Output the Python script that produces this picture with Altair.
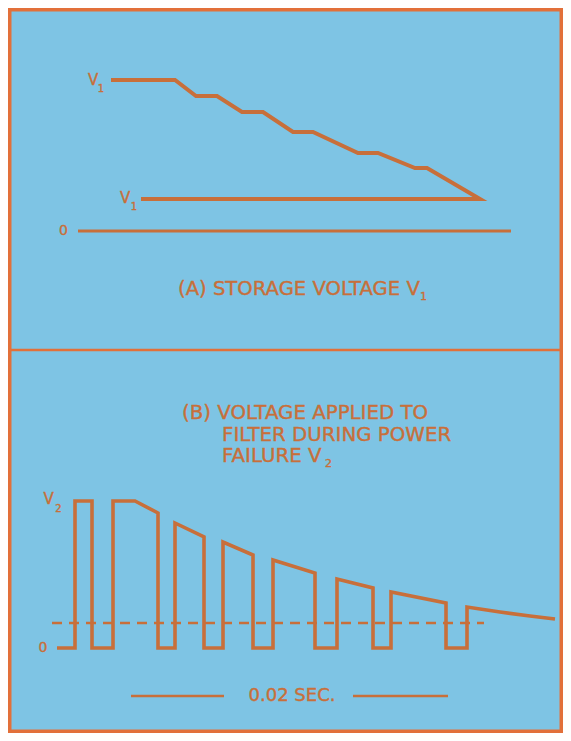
import altair as alt
import pandas as pd

BLUE = "#7EC4E4"
ORANGE = "#C86F3A"
FRAME = "#E2703A"

# ---- Panel A: storage voltage V1 (figure units) ----
a_curve_x = [111, 175, 196, 217, 242, 263, 293, 313, 358, 378, 415, 427, 480, 141]
a_curve_y = [80, 80, 96, 96, 112, 112, 132, 132, 153, 153, 168, 168, 199, 199]
a_zero_x = [78, 511]
a_zero_y = [231, 231]

# ---- Panel B: voltage applied to filter V2 ----
b_wave_x = [57, 75, 75, 92, 92, 113, 113, 135, 158, 158, 175, 175, 204, 204, 223, 223,
            253, 253, 273, 273, 315, 315, 337, 337, 373, 373, 391, 391, 446, 446, 467,
            467, 500, 530, 555]
b_wave_y = [648, 648, 501, 501, 648, 648, 501, 501, 513, 648, 648, 523, 537, 648, 648, 542,
            555, 648, 648, 560, 573, 648, 648, 579, 588, 648, 648, 592, 603, 648, 648,
            607, 612, 616, 619]
b_dash_x = [52, 484]
b_dash_y = [623, 623]
b_bar_x = [131, 224, 353, 448]
b_bar_y = [696, 696, 696, 696]
b_bar_seg = ["l", "l", "r", "r"]

divider_x = [8, 563]
divider_y = [350, 350]

# ---- text ----
lab_text = ["V", "1", "V", "1", "0", "V", "2", "0", "0.02 SEC."]
lab_x = [93, 101, 125, 134, 63.5, 48.5, 58.5, 43, 292]
lab_y = [80, 89, 198, 207, 231, 499, 509, 648, 696]
lab_size = [15, 10, 15, 10, 14, 15, 10, 14, 18]

title_text = ["(A) STORAGE VOLTAGE V", "1", "(B) VOLTAGE APPLIED TO",
              "FILTER DURING POWER", "FAILURE V", "2"]
title_x = [178, 420, 182, 222, 222, 325]
title_y = [289, 297, 413, 435, 456, 464]
title_size = [19.6, 11, 19.8, 19.8, 19.8, 11]

X = alt.X("x:Q", scale=alt.Scale(domain=[8, 563], nice=False, zero=False), axis=None)
Y = alt.Y("y:Q", scale=alt.Scale(domain=[8, 733], nice=False, zero=False, reverse=True), axis=None)


def poly(xs, ys, seg=None):
    df = pd.DataFrame({"x": xs, "y": ys, "i": list(range(len(xs)))})
    df["seg"] = seg if seg is not None else "a"
    return df


curve_a = alt.Chart(poly(a_curve_x, a_curve_y)).mark_line(
    color=ORANGE, strokeWidth=4, strokeJoin="miter", strokeCap="butt"
).encode(x=X, y=Y, order="i:Q")

zero_a = alt.Chart(poly(a_zero_x, a_zero_y)).mark_line(
    color=ORANGE, strokeWidth=3
).encode(x=X, y=Y, order="i:Q")

wave_b = alt.Chart(poly(b_wave_x, b_wave_y)).mark_line(
    color=ORANGE, strokeWidth=3.6, strokeJoin="miter", strokeCap="butt"
).encode(x=X, y=Y, order="i:Q")

dash_b = alt.Chart(poly(b_dash_x, b_dash_y)).mark_line(
    color=ORANGE, strokeWidth=2.5, strokeDash=[10, 7]
).encode(x=X, y=Y, order="i:Q")

bar_b = alt.Chart(poly(b_bar_x, b_bar_y, b_bar_seg)).mark_line(
    color=ORANGE, strokeWidth=2.5
).encode(x=X, y=Y, order="i:Q", detail="seg:N")

divider = alt.Chart(poly(divider_x, divider_y)).mark_line(
    color=FRAME, strokeWidth=2.5
).encode(x=X, y=Y, order="i:Q")

labels = alt.Chart(pd.DataFrame({"t": lab_text, "x": lab_x, "y": lab_y, "s": lab_size})).mark_text(
    color=ORANGE, font="DejaVu Sans", align="center", baseline="middle",
    stroke=ORANGE, strokeWidth=0.4
).encode(x=X, y=Y, text="t:N", size=alt.Size("s:Q", scale=None))

titles = alt.Chart(pd.DataFrame({"t": title_text, "x": title_x, "y": title_y, "s": title_size})).mark_text(
    color=ORANGE, font="DejaVu Sans", align="left", baseline="middle",
    stroke=ORANGE, strokeWidth=0.4
).encode(x=X, y=Y, text="t:N", size=alt.Size("s:Q", scale=None))

chart = alt.layer(
    divider, zero_a, curve_a, dash_b, wave_b, bar_b, labels, titles
).properties(
    width=555, height=725, padding=0, autosize="none", background=BLUE
).configure_view(stroke=FRAME, strokeWidth=7, fill=BLUE)

chart.save("out.html", embed_options={"renderer": "svg", "actions": False})
